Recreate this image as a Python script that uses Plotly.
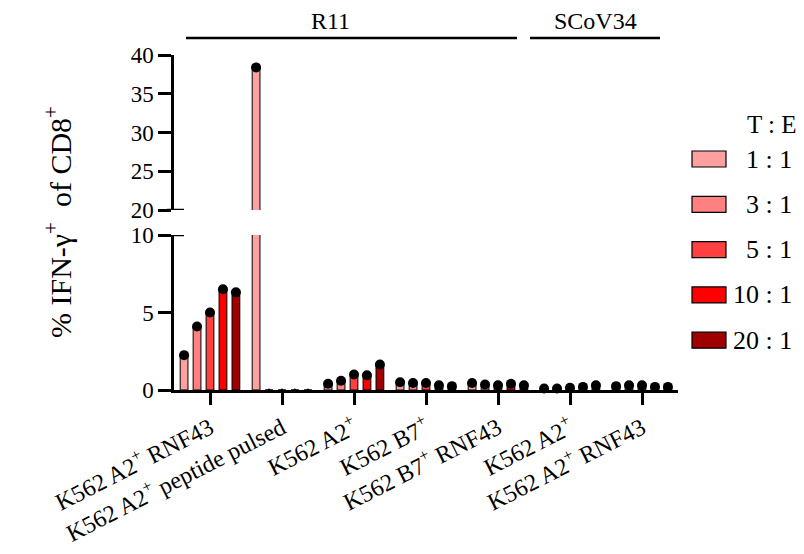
import plotly.graph_objects as go

# ---------------- data ----------------
groups = ["K562 A2<sup>+</sup> RNF43", "K562 A2<sup>+</sup> peptide pulsed", "K562 A2<sup>+</sup>",
          "K562 B7<sup>+</sup>", "K562 B7<sup>+</sup> RNF43", "K562 A2<sup>+</sup>",
          "K562 A2<sup>+</sup> RNF43"]
ratios = ["1 : 1", "3 : 1", "5 : 1", "10 : 1", "20 : 1"]
te_1_1 = [2.25, 38.4, 0.4, 0.5, 0.45, 0.1, 0.25]
te_3_1 = [4.1, 0.0, 0.6, 0.45, 0.35, 0.1, 0.3]
te_5_1 = [5.0, 0.0, 1.0, 0.45, 0.3, 0.15, 0.3]
te_10_1 = [6.5, 0.0, 0.95, 0.3, 0.4, 0.2, 0.2]
te_20_1 = [6.3, 0.0, 1.65, 0.25, 0.3, 0.3, 0.2]
series = [te_1_1, te_3_1, te_5_1, te_10_1, te_20_1]
colors = ["#FFA0A0", "#FF8080", "#FF4040", "#FF0000", "#A00000"]
effectors = ["R11", "SCoV34"]

# ---------------- layout geometry ----------------
W, H = 804, 554
L, R, T, B = 174, 126, 55, 164
PW, PH = W - L - R, H - T - B
FONT = "Liberation Serif"


def px(xp):
    return (xp - L) / PW


def py(yp):
    return (H - B - yp) / PH


low_dom = [0, py(235)]
up_dom = [py(210), 1]

fig = go.Figure()
pos = list(range(len(groups)))

for j, (vals, col, name) in enumerate(zip(series, colors, ratios)):
    for xa, ya in (("x", "y"), ("x2", "y2")):
        fig.add_trace(go.Bar(
            x=pos, y=vals, name=name, xaxis=xa, yaxis=ya, offsetgroup=str(j),
            marker=dict(color=col, line=dict(color="black", width=1)),
            showlegend=False, hoverinfo="skip"))
    low_pts = [v if v <= 10 else None for v in vals]
    up_pts = [v if v >= 20 else None for v in vals]
    sizes = [10 if v > 0 else 3 for v in vals]
    fig.add_trace(go.Scatter(
        x=pos, y=low_pts, mode="markers", xaxis="x", yaxis="y", offsetgroup=str(j),
        marker=dict(color="black", size=sizes, opacity=1, line=dict(width=0)),
        cliponaxis=False, showlegend=False))
    fig.add_trace(go.Scatter(
        x=pos, y=up_pts, mode="markers", xaxis="x2", yaxis="y2", offsetgroup=str(j),
        marker=dict(color="black", size=10, opacity=1, line=dict(width=0)),
        cliponaxis=False, showlegend=False))

axis_common = dict(showline=True, linecolor="black", linewidth=2.5, ticks="outside",
                   tickcolor="black", tickwidth=2.5, showgrid=False, zeroline=False,
                   automargin=False)
yfont = dict(family=FONT, size=23, color="black")

fig.update_layout(
    width=W, height=H, margin=dict(l=L, r=R, t=T, b=B, autoexpand=False),
    paper_bgcolor="white", plot_bgcolor="white",
    barmode="group", bargap=0.1, bargroupgap=0.4,
    scattermode="group", scattergap=0.1,
    showlegend=False,
    font=dict(family=FONT, color="black"),
    xaxis=dict(range=[-0.5, len(groups) - 0.5], tickvals=pos, ticktext=groups,
               tickangle=-27, ticklen=12, anchor="y",
               tickfont=dict(family=FONT, size=24, color="black"), **axis_common),
    xaxis2=dict(range=[-0.5, len(groups) - 0.5], anchor="y2", visible=False, matches="x"),
    yaxis=dict(domain=low_dom, range=[0, 10], tickvals=[0, 5, 10], ticklen=13,
               anchor="x", tickfont=yfont, **axis_common),
    yaxis2=dict(domain=up_dom, range=[20, 40], tickvals=[20, 25, 30, 35, 40], ticklen=13,
                anchor="x2", tickfont=yfont, **axis_common),
)

shapes = []
annotations = []
# axis break caps
for yref, yv in (("y", 10), ("y2", 20)):
    shapes.append(dict(type="line", xref="paper", yref=yref, x0=px(167), x1=px(184),
                       y0=yv, y1=yv, line=dict(color="black", width=2.5)))

# effector brackets
for name, (x0, x1), tx in zip(effectors, [(186, 517), (530, 660)], [330, 595]):
    shapes.append(dict(type="line", xref="paper", yref="paper", x0=px(x0), x1=px(x1),
                       y0=py(38), y1=py(38), line=dict(color="black", width=2.5)))
    annotations.append(dict(text=name, xref="paper", yref="paper", x=px(tx), y=py(21),
                            showarrow=False, font=dict(family=FONT, size=24, color="black"),
                            xanchor="center", yanchor="middle"))

# y axis title
annotations.append(dict(text="% IFN-γ<sup>+</sup>  of CD8<sup>+</sup>", xref="paper",
                        yref="paper", x=px(58), y=py(222), textangle=-90, showarrow=False,
                        font=dict(family=FONT, size=30, color="black"),
                        xanchor="center", yanchor="middle"))

# manual legend
annotations.append(dict(text="T : E", xref="paper", yref="paper", x=px(772), y=py(124),
                        showarrow=False, font=dict(family=FONT, size=25, color="black"),
                        xanchor="center", yanchor="middle"))
for k, (name, col) in enumerate(zip(ratios, colors)):
    yc = 159 + k * 45.3
    shapes.append(dict(type="rect", xref="paper", yref="paper", x0=px(692), x1=px(726),
                       y0=py(yc - 8), y1=py(yc + 8), fillcolor=col,
                       line=dict(color="black", width=1.2)))
    annotations.append(dict(text=name, xref="paper", yref="paper", x=px(794), y=py(yc),
                            showarrow=False, font=dict(family=FONT, size=26, color="black"),
                            xanchor="right", yanchor="middle"))

fig.update_layout(shapes=shapes, annotations=annotations)
fig.write_html("out.html")
